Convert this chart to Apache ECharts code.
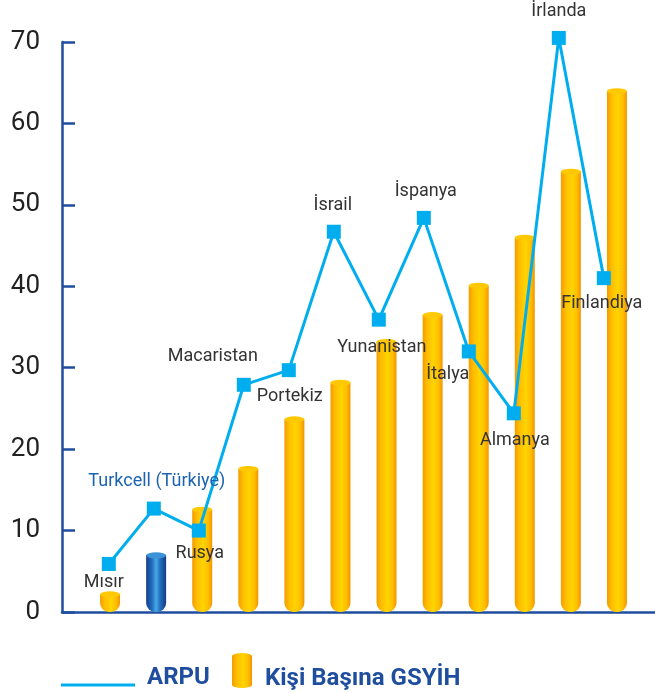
<!DOCTYPE html>
<html>
<head>
<meta charset="utf-8">
<script src="https://cdn.jsdelivr.net/npm/echarts@6/dist/echarts.min.js"></script>
<style>
  html, body { margin: 0; padding: 0; background: #fff; }
  #chart { width: 655px; height: 693px; }
</style>
</head>
<body>
<div id="chart"></div>
<script>
// point labels of the ARPU line (one per bar)
const countries = ['Mısır', 'Turkcell (Türkiye)', 'Rusya', 'Macaristan', 'Portekiz', 'İsrail',
  'Yunanistan', 'İspanya', 'İtalya', 'Almanya', 'İrlanda', 'Finlandiya']
// Kişi Başına GSYİH (bars)
const gdpPerCapita = [2.2, 7.0, 12.6, 17.6, 23.7, 28.2, 33.2, 36.5, 40.1, 46.0, 54.1, 64.0]
// ARPU (line)
const arpu = [5.9, 12.7, 10.0, 27.9, 29.7, 46.7, 35.9, 48.4, 32.0, 24.4, 70.5, 41.0]
const yMin = 0
const yMax = 70
const yStep = 10

// label placement around each square (dx, dy from the point)
const labelOffsets = [[-5, 19], [3, -27], [1, 23], [-31, -28], [1, 26], [-1, -26],
  [3, 28], [2, -26], [-21, 23], [1, 27], [0, -26], [-2, 25]]

const AXIS_BLUE = '#1f4e9f'
const LINE_BLUE = '#00aeef'
const TEXT = '#333333'
const FONT = 'Roboto, "Noto Sans", sans-serif'

const yellowBody = new echarts.graphic.LinearGradient(0, 0, 1, 0, [
  { offset: 0, color: '#f39c00' },
  { offset: 0.25, color: '#ffbf00' },
  { offset: 0.55, color: '#ffd400' },
  { offset: 0.8, color: '#ffbe00' },
  { offset: 1, color: '#f29400' }
])
const blueBody = new echarts.graphic.LinearGradient(0, 0, 1, 0, [
  { offset: 0, color: '#173f8a' },
  { offset: 0.3, color: '#1f6fbf' },
  { offset: 0.5, color: '#4aa8e6' },
  { offset: 0.7, color: '#1f6fbf' },
  { offset: 1, color: '#143a82' }
])

const turkcellIdx = 1

const barData = gdpPerCapita.map((v, i) => i === turkcellIdx
  ? { value: v, itemStyle: { color: blueBody } }
  : v)

const capData = gdpPerCapita.map((v, i) => i === turkcellIdx
  ? { value: v, itemStyle: { color: '#3b92d8', borderColor: '#c9e8ff' } }
  : v)

const lineData = arpu.map((v, i) => ({
  value: v,
  name: countries[i],
  label: {
    offset: labelOffsets[i],
    color: i === turkcellIdx ? '#1c64b0' : TEXT
  }
}))

// legend icons: a tiny dot keeps the box taller so the mark sits off the text centre
const lineIcon = 'path://M0,0 L0.1,0 L0.1,0.1 Z M0,14 L74,14 L74,17 L0,17 Z'
const cylIcon = 'path://M0,3 A10,3 0 0 1 20,3 L20,32 A10,3 0 0 1 0,32 Z M0,50.9 L0.1,50.9 L0.1,51 Z'

const chart = echarts.init(document.getElementById('chart'))
chart.setOption({
  animation: false,
  backgroundColor: '#fff',
  grid: [
    { left: 87, width: 553, top: 42, bottom: 81 },   // bars
    { left: 86.3, width: 540, top: 42, bottom: 81 }, // line
    { left: 62, right: 0, top: 42, bottom: 81 }      // visible axes
  ],
  xAxis: [
    { type: 'category', gridIndex: 0, data: countries, show: false },
    { type: 'category', gridIndex: 1, data: countries, show: false },
    {
      type: 'value', gridIndex: 2, min: 0, max: 1,
      axisLine: { show: true, lineStyle: { color: AXIS_BLUE, width: 2.5 } },
      axisTick: { show: false }, axisLabel: { show: false }, splitLine: { show: false }
    }
  ],
  yAxis: [
    { type: 'value', gridIndex: 0, min: yMin, max: yMax, interval: yStep, show: false },
    { type: 'value', gridIndex: 1, min: yMin, max: yMax, interval: yStep, show: false },
    {
      type: 'value', gridIndex: 2, min: yMin, max: yMax, interval: yStep,
      axisLine: { show: true, lineStyle: { color: AXIS_BLUE, width: 2.5 } },
      axisTick: { show: true, inside: true, length: 13, lineStyle: { color: AXIS_BLUE, width: 2.5 } },
      axisLabel: { fontSize: 26, fontFamily: FONT, color: '#222', margin: 22 },
      splitLine: { show: false }
    }
  ],
  legend: [
    {
      data: ['ARPU'],
      left: 56, top: 661,
      itemWidth: 74, itemHeight: 17,
      icon: lineIcon,
      textStyle: { fontSize: 24, fontWeight: 'bold', fontFamily: FONT, color: AXIS_BLUE, padding: [0, 0, 0, 7] }
    },
    {
      data: ['Kişi Başına GSYİH'],
      left: 227, top: 648,
      itemWidth: 20, itemHeight: 51,
      icon: cylIcon,
      textStyle: { fontSize: 24, fontWeight: 'bold', fontFamily: FONT, color: AXIS_BLUE, padding: [0, 0, 0, 8] }
    }
  ],
  series: [
    {
      name: 'Kişi Başına GSYİH',
      type: 'bar',
      xAxisIndex: 0, yAxisIndex: 0,
      barWidth: 20,
      itemStyle: { color: yellowBody, borderRadius: [0, 0, 9, 9] },
      data: barData,
      z: 2
    },
    {
      name: 'cap',
      type: 'pictorialBar',
      xAxisIndex: 0, yAxisIndex: 0,
      symbol: 'circle',
      symbolSize: [20, 6],
      symbolPosition: 'end',
      symbolOffset: [0, '-50%'],
      itemStyle: { color: '#ffc800', borderColor: '#fff3c0', borderWidth: 1 },
      data: capData,
      z: 3
    },
    {
      name: 'ARPU',
      type: 'line',
      xAxisIndex: 1, yAxisIndex: 1,
      clip: false,
      symbol: 'rect',
      symbolSize: 14,
      lineStyle: { color: LINE_BLUE, width: 3 },
      itemStyle: { color: LINE_BLUE },
      label: {
        show: true,
        position: 'inside',
        formatter: '{b}',
        fontSize: 18,
        fontFamily: FONT,
        color: TEXT
      },
      data: lineData,
      z: 5
    }
  ]
})
</script>
</body>
</html>
